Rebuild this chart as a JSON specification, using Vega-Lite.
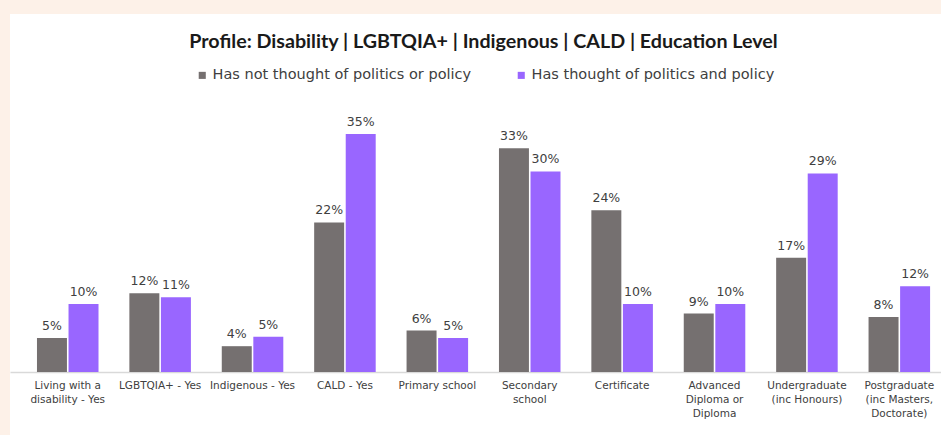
{
  "$schema": "https://vega.github.io/schema/vega-lite/v6.json",
  "width": 931,
  "height": 421,
  "autosize": {"type": "none"},
  "padding": {"left": 10, "top": 14, "right": 0, "bottom": 0},
  "background": "#fdf1e8",
  "config": {"view": {"fill": "#ffffff", "stroke": null}},
  "title": {
    "text": "Profile: Disability | LGBTQIA+ | Indigenous | CALD | Education Level",
    "anchor": "middle",
    "offset": -38,
    "dx": 8,
    "fontSize": 19.7,
    "font": "Lato",
    "fontWeight": "bold",
    "color": "#1a1a1a"
  },
  "data": {
    "values": [
      {"category": "Living with a|disability - Yes", "series": "Has not thought of politics or policy", "value": 5, "label": "5%"},
      {"category": "Living with a|disability - Yes", "series": "Has thought of politics and policy", "value": 10, "label": "10%"},
      {"category": "LGBTQIA+ - Yes", "series": "Has not thought of politics or policy", "value": 11.6, "label": "12%"},
      {"category": "LGBTQIA+ - Yes", "series": "Has thought of politics and policy", "value": 11, "label": "11%"},
      {"category": "Indigenous - Yes", "series": "Has not thought of politics or policy", "value": 3.8, "label": "4%"},
      {"category": "Indigenous - Yes", "series": "Has thought of politics and policy", "value": 5.2, "label": "5%"},
      {"category": "CALD - Yes", "series": "Has not thought of politics or policy", "value": 22, "label": "22%"},
      {"category": "CALD - Yes", "series": "Has thought of politics and policy", "value": 35, "label": "35%"},
      {"category": "Primary school", "series": "Has not thought of politics or policy", "value": 6.1, "label": "6%"},
      {"category": "Primary school", "series": "Has thought of politics and policy", "value": 5, "label": "5%"},
      {"category": "Secondary|school", "series": "Has not thought of politics or policy", "value": 32.9, "label": "33%"},
      {"category": "Secondary|school", "series": "Has thought of politics and policy", "value": 29.5, "label": "30%"},
      {"category": "Certificate", "series": "Has not thought of politics or policy", "value": 23.8, "label": "24%"},
      {"category": "Certificate", "series": "Has thought of politics and policy", "value": 10, "label": "10%"},
      {"category": "Advanced|Diploma or|Diploma", "series": "Has not thought of politics or policy", "value": 8.6, "label": "9%"},
      {"category": "Advanced|Diploma or|Diploma", "series": "Has thought of politics and policy", "value": 10, "label": "10%"},
      {"category": "Undergraduate|(inc Honours)", "series": "Has not thought of politics or policy", "value": 16.8, "label": "17%"},
      {"category": "Undergraduate|(inc Honours)", "series": "Has thought of politics and policy", "value": 29.2, "label": "29%"},
      {"category": "Postgraduate|(inc Masters,|Doctorate)", "series": "Has not thought of politics or policy", "value": 8.1, "label": "8%"},
      {"category": "Postgraduate|(inc Masters,|Doctorate)", "series": "Has thought of politics and policy", "value": 12.6, "label": "12%"}
    ]
  },
  "encoding": {
    "x": {
      "field": "category",
      "type": "nominal",
      "sort": null,
      "scale": {"paddingInner": 0.334, "paddingOuter": 0.205, "align": 0.712},
      "axis": {
        "title": null,
        "offset": -63,
        "labelAngle": 0,
        "labelExpr": "split(datum.label, '|')",
        "labelFont": "DejaVu Sans",
        "labelFontSize": 10.5,
        "labelColor": "#404040",
        "labelPadding": 8,
        "labelLineHeight": 14,
        "labelLimit": 0,
        "labelOverlap": false,
        "ticks": false,
        "domainColor": "#d9d9d9",
        "domainWidth": 1.5
      }
    },
    "xOffset": {
      "field": "series",
      "type": "nominal",
      "sort": ["Has not thought of politics or policy", "Has thought of politics and policy"],
      "scale": {"paddingInner": 0.05}
    },
    "y": {
      "field": "value",
      "type": "quantitative",
      "scale": {"domain": [-9.26, 52.65], "nice": false, "zero": false},
      "axis": null
    }
  },
  "layer": [
    {
      "mark": {"type": "bar"},
      "encoding": {
        "y2": {"datum": 0},
        "color": {
          "field": "series",
          "type": "nominal",
          "scale": {
            "domain": ["Has not thought of politics or policy", "Has thought of politics and policy"],
            "range": ["#757070", "#9966ff"]
          },
          "legend": {
            "orient": "none",
            "legendX": 185,
            "legendY": 54,
            "direction": "horizontal",
            "title": null,
            "symbolType": "square",
            "symbolSize": 50,
            "symbolStrokeWidth": 0,
            "labelFont": "DejaVu Sans",
            "labelFontSize": 14.5,
            "labelColor": "#404040",
            "labelOffset": 3,
            "labelLimit": 0,
            "columnPadding": 42
          }
        }
      }
    },
    {
      "mark": {"type": "text", "baseline": "alphabetic", "dy": -8, "font": "DejaVu Sans", "fontSize": 12.5, "color": "#404040"},
      "encoding": {"text": {"field": "label"}}
    }
  ]
}
